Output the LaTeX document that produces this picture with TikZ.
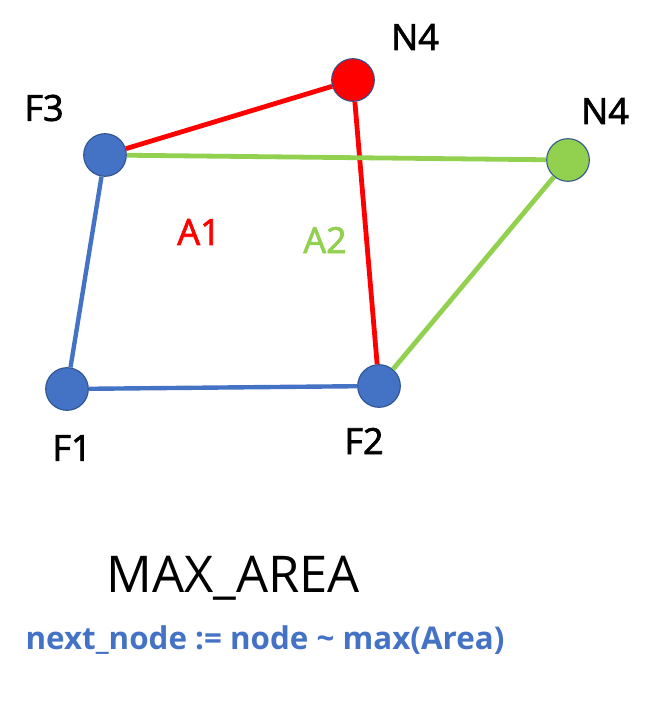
\documentclass[tikz,border=0pt]{standalone}
\usepackage{fontspec}
\setmainfont{Open Sans}
\newfontfamily\lblfont{Open Sans}[FakeBold=2]
\definecolor{fblue}{HTML}{4472C4}
\definecolor{fred}{HTML}{FF0000}
\definecolor{fgreen}{HTML}{92D050}
\definecolor{rim}{HTML}{2F528F}
\tikzset{
  pt/.style={circle,draw=rim,line width=0.8pt,minimum size=32pt,inner sep=0pt},
  lbl/.style={font=\lblfont\fontsize{27}{29}\selectfont},
  edge/.style={line width=3.6pt}
}
\begin{document}
\begin{tikzpicture}[x=0.75pt,y=-0.75pt]
\useasboundingbox (0,0) rectangle (666,712);
\node[pt,fill=fblue] (F3) at (105,155) {};
\node[pt,fill=fblue] (F1) at (67,389) {};
\node[pt,fill=fblue] (F2) at (379,386) {};
\node[pt,fill=fred] (N4r) at (353,80) {};
\node[pt,fill=fgreen] (N4g) at (568,160) {};
\draw[edge,fblue,line width=3.3pt] (F3) -- (F1);
\draw[edge,fblue,line width=3.3pt] (F1) -- (F2);
\draw[edge,fred] (F3) -- (N4r);
\draw[edge,fred] (N4r) -- (F2);
\draw[edge,fgreen] (F3) -- (N4g);
\draw[edge,fgreen] (N4g) -- (F2);
\node[lbl] (tN4r) at (415,37) {N4};
\node[lbl] (tN4g) at (605,111) {N4};
\node[lbl] (tF3) at (44,108) {F3};
\node[lbl] (tF1) at (72,448) {F1};
\node[lbl] (tF2) at (364,441) {F2};
\node[lbl,text=fred] (tA1) at (199,232) {A1};
\node[lbl,text=fgreen] (tA2) at (325,240) {A2};
\node[font=\fontsize{38}{40}\selectfont] (title) at (233,578) {MAX\_AREA};
\node[font=\bfseries\fontsize{23.5}{26}\selectfont,text=fblue] (rule) at (265,640) {next\_node := node \textasciitilde{} max(Area)};
\end{tikzpicture}
\end{document}
